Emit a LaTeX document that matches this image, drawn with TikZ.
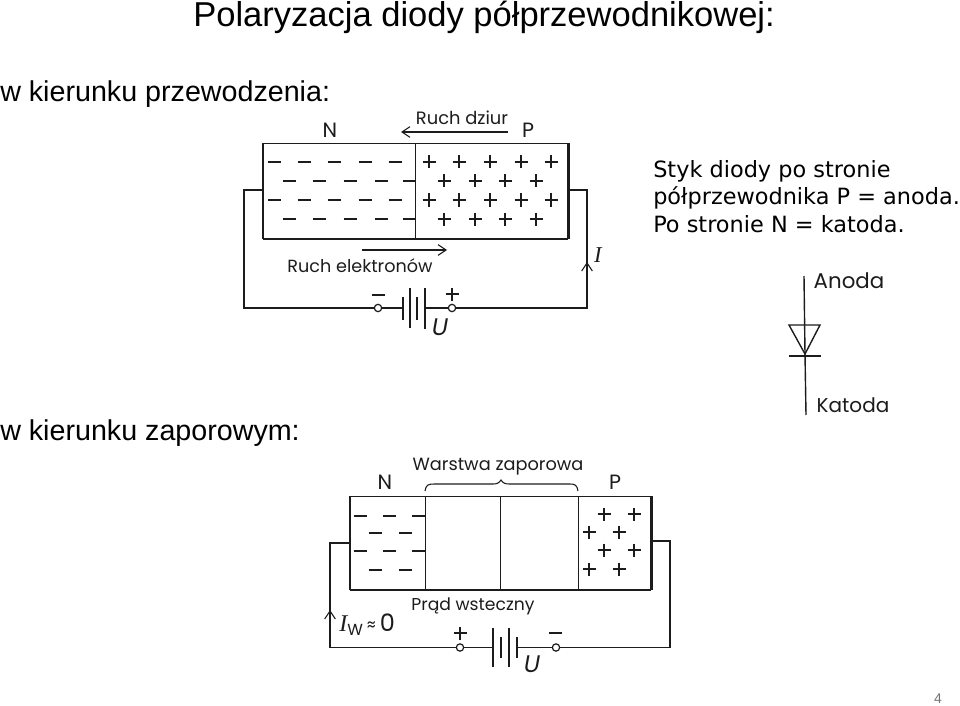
\documentclass[tikz,border=0pt]{standalone}
\usepackage{fontspec}
\setmainfont{Liberation Sans}
\newfontfamily\hand{DejaVu Sans}
\newfontfamily\scanf{Poppins}
\newfontfamily\serifit{Liberation Serif}
\usetikzlibrary{arrows.meta}
\definecolor{ink}{HTML}{1C1C1C}
\tikzset{
  x=0.75pt,y=-0.75pt,
  wire/.style={draw=ink,line width=1.05pt},
  thin wire/.style={draw=ink,line width=0.8pt},
  heavy/.style={draw=ink,line width=1.9pt},
  region/.style={draw=ink,line width=1pt,rectangle,inner sep=0pt,anchor=north west},
  term/.style={circle,draw=ink,fill=white,line width=0.9pt,inner sep=0pt,minimum size=5.5pt},
  sign/.style={draw=ink,line width=0.8pt},
  head/.style={font=\fontsize{21.5}{24}\selectfont,text=black,inner sep=0pt},
  note/.style={font=\hand\fontsize{16.8}{20.6}\selectfont,text=black,inner sep=0pt,align=left,anchor=north west},
  lab/.style={font=\scanf\fontsize{13.3}{15}\selectfont,text=ink,inner sep=0pt},
  big/.style={font=\scanf\fontsize{15.5}{17}\selectfont,text=ink,inner sep=0pt},
  flow/.style={draw=ink,line width=0.8pt,-{Straight Barb[length=6pt,width=8pt]}},
}
\newcommand{\mns}[2]{\draw[sign] (#1-6.5,#2) -- (#1+6.5,#2);}
\newcommand{\pls}[2]{\draw[sign] (#1-6.5,#2) -- (#1+6.5,#2) (#1,#2-6.5) -- (#1,#2+6.5);}
\begin{document}
\begin{tikzpicture}
\useasboundingbox (0,0) rectangle (960,706);
% headings
\node[head,anchor=base west,font=\fontsize{25.9}{28}\selectfont] (title) at (193,27) {Polaryzacja diody półprzewodnikowej:};
\node[head,anchor=base west] (fwd) at (0,102) {w kierunku przewodzenia:};
\node[head,anchor=base west] (rev) at (0,440) {w kierunku zaporowym:};
\node[note] (styk) at (653,160) {Styk diody po stronie\\półprzewodnika P = anoda.\\Po stronie N = katoda.};
\node[font=\fontsize{10.5}{12}\selectfont,text=black!55,inner sep=0pt] (page) at (938,699) {4};

% ---------- forward biased
\node[region,minimum width=114pt,minimum height=71.25pt] (fn) at (263,143) {};
\node[region,minimum width=114pt,minimum height=71.25pt] (fp) at (415,143) {};
\draw[heavy] (fn.north west) -- (fn.south west);
\draw[heavy] (fp.north east) -- (fp.south east);
\draw[heavy,line width=1.3pt] (fn.south west) -- (fp.south east);
\foreach \y in {162,200} {
  \foreach \x in {274,304,334,365,395} {\mns{\x}{\y}}
  \foreach \x in {429,459,490,521,551} {\pls{\x}{\y}}
}
\foreach \y in {181,219} {
  \foreach \x in {289,319,350,381,409} {\mns{\x}{\y}}
  \foreach \x in {444,475,505,536} {\pls{\x}{\y}}
}
\node[big] (fnl) at (330,130) {N};
\node[big] (fpl) at (528,130) {P};
\node[lab,font=\scanf\fontsize{13.4}{16}\selectfont] (fholes) at (462,118) {Ruch dziur};
\node[lab,font=\scanf\fontsize{13.2}{16}\selectfont] (felec) at (360,266) {Ruch elektronów};
\coordinate (fha) at (508,132); \coordinate (fhb) at (401,132);
\draw[flow] (fha) -- (fhb);
\coordinate (fea) at (362,250); \coordinate (feb) at (447,250);
\draw[flow] (fea) -- (feb);
\node[term] (ft1) at (378,308) {};
\node[term] (ft2) at (452,308) {};
\coordinate (fl) at (263,190); \coordinate (flc) at (244,190); \coordinate (fbl) at (244,308);
\coordinate (fr) at (567,190); \coordinate (frc) at (587,190); \coordinate (fbr) at (587,308);
\coordinate (fp1) at (403,308); \coordinate (fp4) at (425,308);
\draw[wire] (fl) -- (flc) -- (fbl) -- (ft1) -- (fp1);
\draw[wire] (fp4) -- (ft2) -- (fbr) -- (frc) -- (fr);
\draw[wire] (403,297) -- (403,320) (417,297) -- (417,320);
\draw[wire] (410,288) -- (410,328) (425,288) -- (425,329);
\coordinate (fia) at (587,285); \coordinate (fib) at (587,262);
\draw[flow] (fia) -- (fib);
\node[font=\serifit\itshape\fontsize{17}{19}\selectfont,text=ink,inner sep=0pt] (fi) at (598,255) {I};
\draw[sign,line width=1.2pt] (372,295) -- (385,295);
\pls{452}{294}
\node[font=\itshape\scanf\fontsize{18}{20}\selectfont,text=ink,inner sep=0pt] (fu) at (440,327) {U};

% ---------- reverse biased
\node[region,minimum width=56.25pt,minimum height=69.75pt] (rn) at (350,496) {};
\node[region,minimum width=56.25pt,minimum height=69.75pt] (rd1) at (425,496) {};
\node[region,minimum width=58.5pt,minimum height=69.75pt] (rd2) at (500,496) {};
\node[region,minimum width=54pt,minimum height=69.75pt] (rp) at (578,496) {};
\draw[heavy] (rn.north west) -- (rn.south west);
\draw[heavy] (rp.north east) -- (rp.south east);
\draw[heavy,line width=1.3pt] (rn.south west) -- (rp.south east);
\foreach \y in {516,551} {\foreach \x in {360,389,418} {\mns{\x}{\y}}}
\foreach \y in {533,570} {\foreach \x in {375,405} {\mns{\x}{\y}}}
\foreach \y in {514,550} {\foreach \x in {604,634} {\pls{\x}{\y}}}
\foreach \y in {532,569} {\foreach \x in {589,619} {\pls{\x}{\y}}}
\node[big] (rnl) at (385,482) {N};
\node[big] (rpl) at (615,482) {P};
\node[lab,font=\scanf\fontsize{13.3}{16}\selectfont] (rlayer) at (498,467) {Warstwa zaporowa};
\node[lab,font=\scanf\fontsize{12.9}{16}\selectfont] (rcur) at (473,606) {Prąd wsteczny};
\coordinate (bra) at (425,491); \coordinate (brb) at (578,491);
\draw[thin wire] (bra) .. controls (426,485) and (428,484) .. (434,484) -- (493,484)
  .. controls (497,484) and (499,483) .. (501,480) .. controls (503,483) and (505,484) .. (509,484)
  -- (570,484) .. controls (575,484) and (577,485) .. (brb);
\node[term] (rt1) at (460,647.5) {};
\node[term] (rt2) at (556,647.5) {};
\coordinate (rl) at (350,543); \coordinate (rlc) at (330,543); \coordinate (rbl) at (330,647.5);
\coordinate (rr) at (650,541); \coordinate (rrc) at (670,541); \coordinate (rbr) at (670,647.5);
\coordinate (rp1) at (493,647.5); \coordinate (rp4) at (517,647.5);
\draw[wire] (rl) -- (rlc) -- (rbl) -- (rt1) -- (rp1);
\draw[wire] (rp4) -- (rt2) -- (rbr) -- (rrc) -- (rr);
\draw[wire] (493,628) -- (493,667) (509,628) -- (509,667);
\draw[wire] (501,637) -- (501,658) (517,637) -- (517,658);
\coordinate (ria) at (330,632); \coordinate (rib) at (330,610);
\draw[flow] (ria) -- (rib);
\node[inner sep=0pt,text=ink,anchor=west,font=\scanf\fontsize{18}{20}\selectfont] (riw) at (339,625) {{\serifit\itshape I}{\fontsize{12}{14}\selectfont\raisebox{-3pt}{W}}\,{\fontsize{13}{14}\selectfont≈}\,0};
\pls{460}{633}
\draw[sign,line width=1.2pt] (549,633) -- (562,633);
\node[font=\itshape\scanf\fontsize{18}{20}\selectfont,text=ink,inner sep=0pt] (ru) at (532,664) {U};

% ---------- diode symbol
\coordinate (da) at (804,276); \coordinate (dk) at (806,415);
\coordinate (dl) at (789,325); \coordinate (dr) at (820,325); \coordinate (dt) at (805,354);
\draw[wire] (da) -- (dt) -- (dk);
\draw[wire,line join=miter] (dl) -- (dr) -- (dt) -- cycle;
\draw[wire] (789,356) -- (821,356);
\node[lab,font=\scanf\fontsize{16}{18}\selectfont] (anode) at (849,281) {Anoda};
\node[lab,font=\scanf\fontsize{15}{18}\selectfont] (kath) at (853,405) {Katoda};
\end{tikzpicture}
\end{document}
